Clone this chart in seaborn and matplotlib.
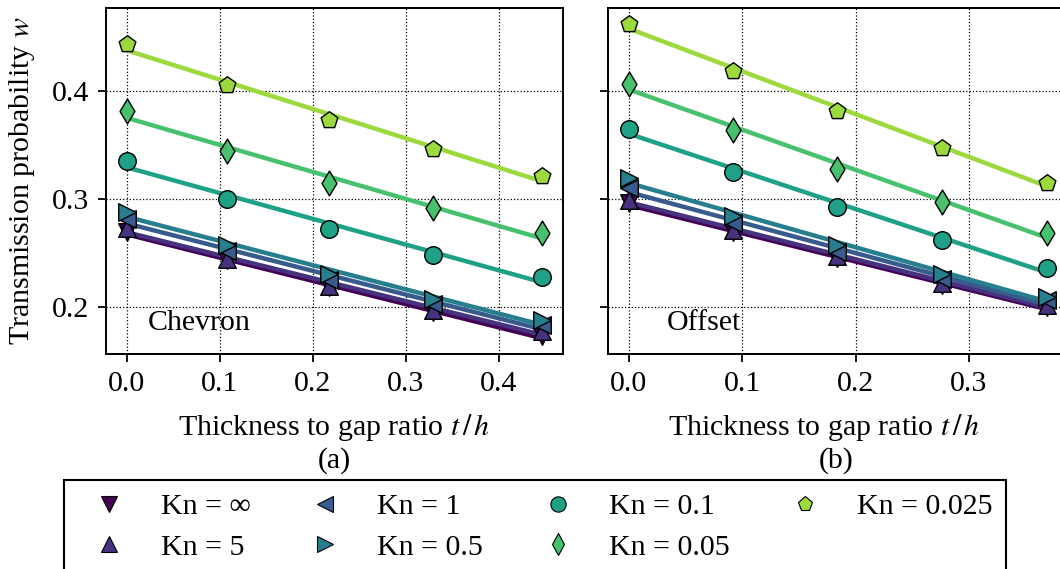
import matplotlib
matplotlib.use("Agg")
import matplotlib.pyplot as plt
from matplotlib.lines import Line2D
from matplotlib.ticker import FormatStrFormatter
import numpy as np
import pandas as pd
import seaborn as sns

# Knudsen-number series
kn_labels = ["Kn = ∞", "Kn = 5", "Kn = 1", "Kn = 0.5",
             "Kn = 0.1", "Kn = 0.05", "Kn = 0.025"]
kn_markers = ["v", "^", "<", ">", "o", "d", "p"]

# thickness-to-gap ratios for the two geometries
chevron_t = [0.0, 0.108, 0.218, 0.329, 0.447]
offset_t = [0.0, 0.092, 0.184, 0.276, 0.369]

# transmission probabilities, chevron geometry
chevron_inf = [0.269, 0.243, 0.218, 0.195, 0.173]
chevron_5 = [0.273, 0.244, 0.219, 0.197, 0.178]
chevron_1 = [0.281, 0.252, 0.225, 0.203, 0.183]
chevron_05 = [0.288, 0.257, 0.230, 0.207, 0.188]
chevron_01 = [0.335, 0.300, 0.272, 0.248, 0.228]
chevron_005 = [0.381, 0.344, 0.315, 0.291, 0.268]
chevron_0025 = [0.443, 0.405, 0.373, 0.346, 0.321]

# transmission probabilities, offset geometry
offset_inf = [0.296, 0.269, 0.245, 0.220, 0.200]
offset_5 = [0.299, 0.271, 0.247, 0.222, 0.202]
offset_1 = [0.310, 0.278, 0.251, 0.226, 0.206]
offset_05 = [0.319, 0.284, 0.257, 0.230, 0.209]
offset_01 = [0.365, 0.325, 0.292, 0.262, 0.236]
offset_005 = [0.406, 0.364, 0.328, 0.297, 0.268]
offset_0025 = [0.462, 0.418, 0.381, 0.347, 0.315]

chevron_w = [chevron_inf, chevron_5, chevron_1, chevron_05,
             chevron_01, chevron_005, chevron_0025]
offset_w = [offset_inf, offset_5, offset_1, offset_05,
            offset_01, offset_005, offset_0025]

FS = 21.5

sns.set_theme(style="ticks")
plt.rcParams.update({
    "font.family": ["Liberation Serif", "DejaVu Serif"],
    "mathtext.fontset": "stix",
    "font.size": FS,
    "axes.edgecolor": "black",
    "axes.linewidth": 1.4,
    "xtick.color": "black",
    "ytick.color": "black",
    "xtick.major.size": 6,
    "ytick.major.size": 6,
    "xtick.major.width": 1.3,
    "ytick.major.width": 1.3,
    "xtick.major.pad": 6,
    "ytick.major.pad": 6,
    "xtick.labelsize": FS,
    "ytick.labelsize": FS,
    "axes.labelsize": FS,
    "text.color": "black",
    "axes.labelcolor": "black",
})

colors = [plt.cm.viridis(v) for v in np.linspace(0, 0.85, 7)]

fig = plt.figure(figsize=(10.6, 5.69), dpi=100)
W, H = 1060, 569
ax_a = fig.add_axes([106 / W, 1 - 354 / H, 457 / W, 346 / H])
ax_b = fig.add_axes([608 / W, 1 - 354 / H, 460 / W, 346 / H], sharey=ax_a)


def draw_panel(ax, t_vals, series):
    frames = []
    for label, w in zip(kn_labels, series):
        frames.append(pd.DataFrame({"t": t_vals, "w": w, "kn": label}))
    df = pd.concat(frames, ignore_index=True)
    for label, m, c in zip(kn_labels, kn_markers, colors):
        sub = df[df["kn"] == label]
        sns.regplot(data=sub, x="t", y="w", ax=ax, scatter=False, ci=None,
                    color=c, line_kws={"lw": 3.2, "zorder": 2})
        sns.scatterplot(data=sub, x="t", y="w", ax=ax, marker=m, color=c,
                        s=160, edgecolor="black", linewidth=1.0, zorder=3,
                        legend=False)
    ax.grid(True, color="black", linestyle=":", linewidth=0.9)
    ax.set_axisbelow(True)
    ax.set_ylabel("")
    ax.set_xlabel("Thickness to gap ratio $t\\,/\\,h$")


draw_panel(ax_a, chevron_t, chevron_w)
draw_panel(ax_b, offset_t, offset_w)

ax_a.margins(x=0.05, y=0.05)
ax_b.margins(x=0.05, y=0.05)
ax_a.set_xticks([0.0, 0.1, 0.2, 0.3, 0.4])
ax_b.set_xticks([0.0, 0.1, 0.2, 0.3])
ax_a.set_yticks([0.2, 0.3, 0.4])
ax_a.yaxis.set_major_formatter(FormatStrFormatter("%.1f"))
ax_a.xaxis.set_major_formatter(FormatStrFormatter("%.1f"))
ax_b.xaxis.set_major_formatter(FormatStrFormatter("%.1f"))
plt.setp(ax_b.get_yticklabels(), visible=False)
ax_a.set_ylabel("Transmission probability $w$")
ax_a.yaxis.set_label_coords(-0.151, 0.5)

ax_a.xaxis.set_label_coords(0.5, -0.168)
ax_b.xaxis.set_label_coords(0.47, -0.168)
ax_a.text(0.5, -0.309, "(a)", transform=ax_a.transAxes, ha="center", va="center", fontsize=FS)
ax_b.text(0.496, -0.309, "(b)", transform=ax_b.transAxes, ha="center", va="center", fontsize=FS)

ax_a.text(0.092, 0.09, "Chevron", transform=ax_a.transAxes, ha="left", va="center", fontsize=FS)
ax_b.text(0.128, 0.09, "Offset", transform=ax_b.transAxes, ha="left", va="center", fontsize=FS)

handles = [Line2D([], [], linestyle="none", marker=m, color=c, markersize=11,
                  markeredgecolor="black", markeredgewidth=0.8)
           for m, c in zip(kn_markers, colors)]
leg = fig.legend(handles, kn_labels, loc="upper left",
                 bbox_to_anchor=(64 / W, 1 - 480 / H), ncol=4,
                 borderaxespad=0.0,
                 frameon=True, fancybox=False, edgecolor="black",
                 framealpha=1, fontsize=FS, handlelength=2.12,
                 handletextpad=0.67, columnspacing=1.45,
                 borderpad=0.45, labelspacing=0.45)
leg.get_frame().set_linewidth(1.5)

fig.savefig("out.png", dpi=100)
